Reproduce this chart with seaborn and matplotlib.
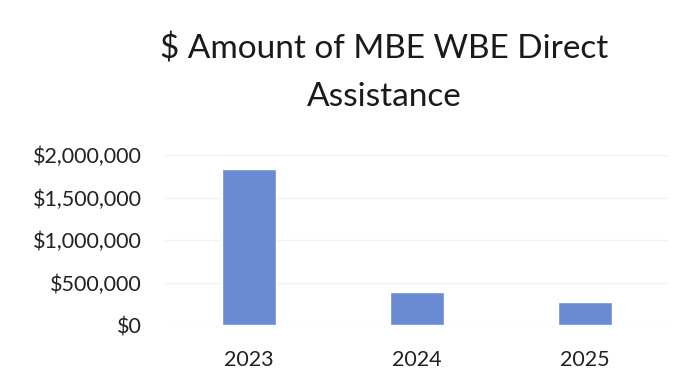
import matplotlib
matplotlib.use("Agg")
import matplotlib.pyplot as plt
import seaborn as sns
import pandas as pd
from matplotlib.ticker import FuncFormatter

years = ["2023", "2024", "2025"]
amounts = [1840000, 385000, 267000]
title = "$ Amount of MBE WBE Direct\nAssistance"

sns.set_style("white")
plt.rcParams['font.family'] = ['Lato', 'DejaVu Sans']

df = pd.DataFrame({"year": years, "amount": amounts})

fig = plt.figure(figsize=(6.86, 3.72), dpi=100)
ax = fig.add_axes([165/686, 1 - 325/372, 504/686, 170/372])
sns.barplot(data=df, x="year", y="amount", color="#6A8AD3", width=0.32,
            saturation=1, ax=ax, zorder=2)
ax.set_ylim(0, 2000000)
ax.set_yticks([0, 500000, 1000000, 1500000, 2000000])
ax.yaxis.set_major_formatter(FuncFormatter(lambda v, p: f"${v:,.0f}"))
ax.grid(axis="y", color="#f2f2f2", linewidth=1, zorder=0)
for s in ax.spines.values():
    s.set_visible(False)
ax.tick_params(axis="both", length=0, labelsize=15.5, colors="#222222")
ax.tick_params(axis="y", pad=16.5)
ax.tick_params(axis="x", pad=18)
ax.set_xlabel("")
ax.set_ylabel("")
fig.suptitle(title, x=384/686, y=1 - 34/372, fontsize=24, color="#1a1a1a",
             linespacing=1.7, va="top")
fig.savefig("out.png", dpi=100)
